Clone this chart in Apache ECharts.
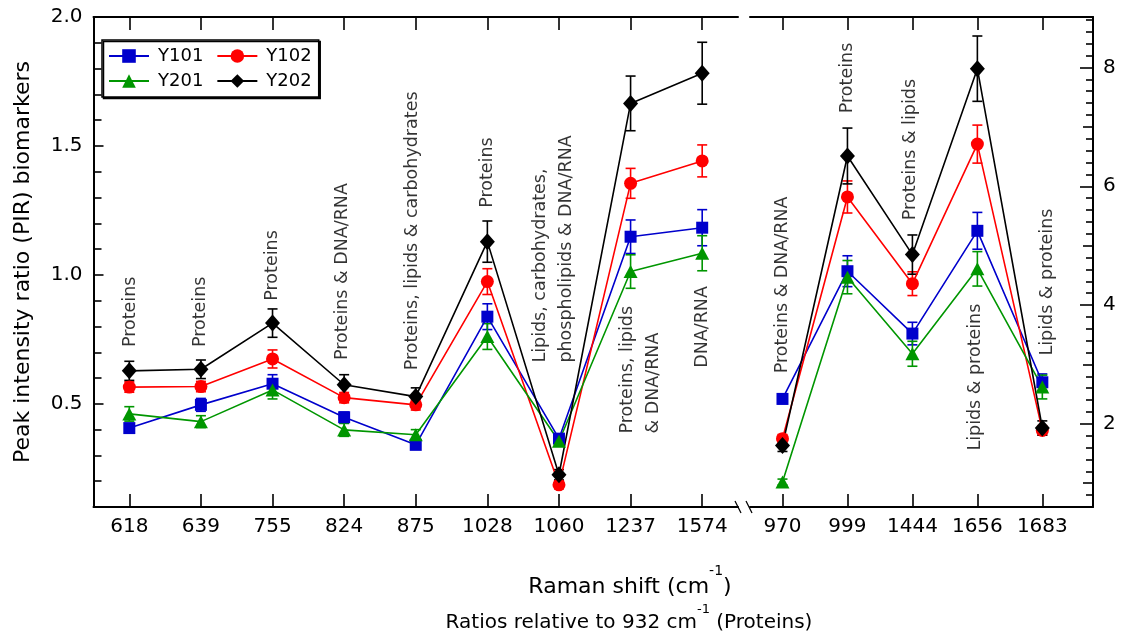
<!DOCTYPE html>
<html>
<head>
<meta charset="utf-8">
<script src="https://cdn.jsdelivr.net/npm/echarts@6/dist/echarts.min.js"></script>
<style>
html,body{margin:0;padding:0;background:#fff;}
#c{width:1128px;height:640px;}
</style>
</head>
<body>
<div id="c"></div>
<script>
// ---------- data ----------
const leftCats = ['618','639','755','824','875','1028','1060','1237','1574'];
const rightCats = ['970','999','1444','1656','1683'];

const y101Left    = [0.406, 0.496, 0.578, 0.448, 0.341, 0.838, 0.365, 1.148, 1.183];
const y101LeftErr = [0.015, 0.025, 0.035, 0.020, 0.012, 0.050, 0.015, 0.065, 0.070];
const y102Left    = [0.565, 0.567, 0.674, 0.524, 0.496, 0.974, 0.186, 1.355, 1.442];
const y102LeftErr = [0.020, 0.020, 0.035, 0.020, 0.020, 0.050, 0.015, 0.058, 0.062];
const y201Left    = [0.461, 0.431, 0.554, 0.399, 0.380, 0.761, 0.355, 1.013, 1.084];
const y201LeftErr = [0.028, 0.023, 0.035, 0.025, 0.020, 0.050, 0.015, 0.065, 0.068];
const y202Left    = [0.628, 0.634, 0.813, 0.574, 0.528, 1.129, 0.225, 1.665, 1.782];
const y202LeftErr = [0.037, 0.036, 0.055, 0.039, 0.034, 0.080, 0.020, 0.106, 0.120];

const y101Right    = [2.42, 4.57, 3.52, 5.25, 2.70];
const y101RightErr = [0.08, 0.26, 0.19, 0.31, 0.14];
const y102Right    = [1.75, 5.82, 4.36, 6.71, 1.89];
const y102RightErr = [0.07, 0.27, 0.20, 0.32, 0.08];
const y201Right    = [1.02, 4.47, 3.18, 4.61, 2.62];
const y201RightErr = [0.05, 0.28, 0.21, 0.29, 0.20];
const y202Right    = [1.635, 6.51, 4.85, 7.98, 1.93];
const y202RightErr = [0.10, 0.47, 0.33, 0.55, 0.12];

const leftTickLabels  = [0.5, 1.0, 1.5, 2.0];
const leftMinorTicks  = [0.2,0.3,0.4,0.6,0.7,0.8,0.9,1.1,1.2,1.3,1.4,1.6,1.7,1.8,1.9];
const rightTickLabels = [2, 4, 6, 8];
const rightMidTicks   = [1, 3, 5, 7];
const rightMinorTicks = [0.8,1.2,1.4,1.6,1.8,2.2,2.4,2.6,2.8,3.2,3.4,3.6,3.8,4.2,4.4,4.6,4.8,5.2,5.4,5.6,5.8,6.2,6.4,6.6,6.8,7.2,7.4,7.6,7.8,8.2,8.4,8.6,8.8];

const leftNotes = ['Proteins','Proteins','Proteins','Proteins & DNA/RNA','Proteins, lipids & carbohydrates','Proteins',
  'Lipids, carbohydrates,\nphospholipids & DNA/RNA','Proteins, lipids\n& DNA/RNA','DNA/RNA'];
const leftNoteLevels = [0.72, 0.72, 0.90, 0.67, 0.63, 1.26, 0.66, 0.385, 0.64];
const rightNotes = ['Proteins & DNA/RNA','Proteins','Proteins & lipids','Lipids & proteins','Lipids & proteins'];
const rightNoteLevels = [2.85, 7.23, 5.43, 1.55, 3.15];

const seriesNames = ['Y101','Y102','Y201','Y202'];

// ---------- styles ----------
const FONT = 'DejaVu Sans';
const colors = {Y101:'#0000CC', Y102:'#FF0000', Y201:'#009600', Y202:'#000000'};
const symbols = {Y101:'rect', Y102:'circle', Y201:'triangle', Y202:'diamond'};
const symSizes = {Y101:[12,12], Y102:[13,13], Y201:[14,13], Y202:[15,17]};
const leftNoteShift = [1, 0, 0, -2, -3, 0, -6, 10, 0];
const rightNoteShift = [0, 0, -2, -2, 5];

const groups = [
  {name:'Y101', L:y101Left, LE:y101LeftErr, R:y101Right, RE:y101RightErr},
  {name:'Y102', L:y102Left, LE:y102LeftErr, R:y102Right, RE:y102RightErr},
  {name:'Y201', L:y201Left, LE:y201LeftErr, R:y201Right, RE:y201RightErr},
  {name:'Y202', L:y202Left, LE:y202LeftErr, R:y202Right, RE:y202RightErr}
];

function errRender(color){
  return function(params, api){
    const x = api.value(0);
    const lo = api.coord([x, api.value(1)]);
    const hi = api.coord([x, api.value(2)]);
    const hw = 5;
    const st = {stroke: color, lineWidth: 1.6};
    return {type:'group', children:[
      {type:'line', shape:{x1:lo[0], y1:lo[1], x2:hi[0], y2:hi[1]}, style:st},
      {type:'line', shape:{x1:lo[0]-hw, y1:lo[1], x2:lo[0]+hw, y2:lo[1]}, style:st},
      {type:'line', shape:{x1:hi[0]-hw, y1:hi[1], x2:hi[0]+hw, y2:hi[1]}, style:st}
    ]};
  };
}

const series = [];
// line series first (legend icons come from these)
groups.forEach(g => {
  const c = colors[g.name];
  series.push({
    name: g.name, type:'line', xAxisIndex:0, yAxisIndex:0,
    data: g.L, symbol: symbols[g.name], symbolSize: symSizes[g.name], showSymbol:true,
    lineStyle:{color:c, width:1.6}, itemStyle:{color:c}, z:3
  });
  series.push({
    name: g.name, type:'line', xAxisIndex:2, yAxisIndex:2,
    data: g.R.map((v,i)=>[i, v]), symbol: symbols[g.name], symbolSize: symSizes[g.name],
    lineStyle:{color:c, width:1.6}, itemStyle:{color:c}, z:3
  });
});
groups.forEach(g => {
  const c = colors[g.name];
  series.push({
    name: g.name, type:'custom', xAxisIndex:0, yAxisIndex:0,
    renderItem: errRender(c), itemStyle:{color:c},
    data: g.L.map((v,i)=>[i, v - g.LE[i], v + g.LE[i]]),
    encode:{x:0, y:[1,2]}, silent:true, z:2
  });
  series.push({
    name: g.name, type:'custom', xAxisIndex:2, yAxisIndex:2,
    renderItem: errRender(c), itemStyle:{color:c},
    data: g.R.map((v,i)=>[i, v - g.RE[i], v + g.RE[i]]),
    encode:{x:0, y:[1,2]}, silent:true, z:2
  });
});

const noteLabel = {
  show:true, position:'inside', rotate:90, align:'left', verticalAlign:'middle',
  fontFamily:FONT, fontSize:17.5, color:'#000', lineHeight:26
};
series.push({
  type:'scatter', xAxisIndex:0, yAxisIndex:0, symbolSize:0, silent:true, z:1,
  data: leftNotes.map((t,i)=>({value:[i, leftNoteLevels[i]], label:{offset:[0, leftNoteShift[i]]}})),
  label: Object.assign({}, noteLabel, {formatter: p => leftNotes[p.dataIndex]})
});
series.push({
  type:'scatter', xAxisIndex:2, yAxisIndex:2, symbolSize:0, silent:true, z:1,
  data: rightNotes.map((t,i)=>({value:[i, rightNoteLevels[i]], label:{offset:[0, rightNoteShift[i]]}})),
  label: Object.assign({}, noteLabel, {formatter: p => rightNotes[p.dataIndex]})
});

const axisLine = {show:true, onZero:false, lineStyle:{color:'#000', width:2}};
const noLine = {show:false, onZero:false};
const tickStyle = {color:'#000', width:1.6};
const labelStyle = {fontFamily:FONT, fontSize:20, color:'#000'};

const RMIN = -0.5, RMAX = 4.78;
const YRMIN = 0.6, YRMAX = 8.85;

const option = {
  animation:false,
  backgroundColor:'#fff',
  textStyle:{fontFamily:FONT},
  grid:[
    {left:93.5, top:17, width:644.5, height:490},
    {left:750, top:17, width:343, height:490}
  ],
  legend:{
    data: seriesNames,
    left:102, top:40, width:225,
    orient:'horizontal',
    itemWidth:40, itemHeight:17, itemGap:7,
    padding:[7,1,7,6],
    borderColor:'#000', borderWidth:1.5,
    backgroundColor:'#fff',
    shadowColor:'#000', shadowOffsetX:1.5, shadowOffsetY:1.5, shadowBlur:0,
    textStyle:{fontFamily:FONT, fontSize:18, color:'#000', lineHeight:16, padding:[0,6,0,4]},
    selectedMode:false
  },
  xAxis:[
    {gridIndex:0, type:'category', data:leftCats, position:'bottom', boundaryGap:true,
     axisLine:axisLine, axisTick:{show:true, inside:true, length:13, alignWithLabel:true, lineStyle:tickStyle},
     axisLabel:Object.assign({margin:10, interval:0}, labelStyle), splitLine:{show:false}},
    {gridIndex:0, type:'category', data:leftCats, position:'top', boundaryGap:true,
     axisLine:axisLine, axisTick:{show:true, inside:true, length:13, alignWithLabel:true, lineStyle:tickStyle},
     axisLabel:{show:false}, splitLine:{show:false}},
    {gridIndex:1, type:'value', min:RMIN, max:RMAX, position:'bottom',
     axisLine:axisLine,
     axisTick:{show:true, inside:true, length:13, lineStyle:tickStyle, customValues:[0,1,2,3,4]},
     axisLabel:Object.assign({margin:10, customValues:[0,1,2,3,4], formatter:v => rightCats[Math.round(v)]}, labelStyle),
     splitLine:{show:false}},
    {gridIndex:1, type:'value', min:RMIN, max:RMAX, position:'top',
     axisLine:axisLine,
     axisTick:{show:true, inside:true, length:13, lineStyle:tickStyle, customValues:[0,1,2,3,4]},
     axisLabel:{show:false}, splitLine:{show:false}}
  ],
  yAxis:[
    {gridIndex:0, type:'value', min:0.1, max:2.0, position:'left',
     axisLine:axisLine,
     axisTick:{show:true, inside:true, length:10, lineStyle:tickStyle, customValues:leftTickLabels},
     axisLabel:Object.assign({margin:11, customValues:leftTickLabels, formatter:v => v.toFixed(1)}, labelStyle),
     splitLine:{show:false},
     name:'Peak intensity ratio (PIR) biomarkers', nameLocation:'middle', nameGap:59,
     nameTextStyle:{fontFamily:FONT, fontSize:22, color:'#000'}},
    {gridIndex:0, type:'value', min:0.1, max:2.0, position:'left',
     axisLine:noLine,
     axisTick:{show:true, inside:true, length:8, lineStyle:tickStyle, customValues:leftMinorTicks},
     axisLabel:{show:false}, splitLine:{show:false}},
    {gridIndex:1, type:'value', min:YRMIN, max:YRMAX, position:'right',
     axisLine:axisLine,
     axisTick:{show:true, inside:true, length:13, lineStyle:tickStyle, customValues:rightTickLabels},
     axisLabel:Object.assign({margin:10, customValues:rightTickLabels}, labelStyle),
     splitLine:{show:false}},
    {gridIndex:1, type:'value', min:YRMIN, max:YRMAX, position:'right',
     axisLine:noLine,
     axisTick:{show:true, inside:true, length:7, lineStyle:tickStyle, customValues:rightMinorTicks},
     axisLabel:{show:false}, splitLine:{show:false}},
    {gridIndex:1, type:'value', min:YRMIN, max:YRMAX, position:'right',
     axisLine:noLine,
     axisTick:{show:true, inside:true, length:10, lineStyle:tickStyle, customValues:rightMidTicks},
     axisLabel:{show:false}, splitLine:{show:false}}
  ],
  graphic:[
    {type:'line', shape:{x1:735, y1:501, x2:741, y2:513}, style:{stroke:'#000', lineWidth:1.3}},
    {type:'line', shape:{x1:746, y1:501, x2:752, y2:513}, style:{stroke:'#000', lineWidth:1.3}},
    {type:'text', x:630, y:587, style:{
      text:'{a|Raman shift (cm}{s|-1}{a|)}', align:'center', verticalAlign:'middle',
      rich:{a:{fontFamily:FONT, fontSize:22, fill:'#000', lineHeight:46},
            s:{fontFamily:FONT, fontSize:14, fill:'#000', verticalAlign:'top', lineHeight:14}}
    }},
    {type:'text', x:629, y:623, style:{
      text:'{a|Ratios relative to 932 cm}{s|-1}{a| (Proteins)}', align:'center', verticalAlign:'middle',
      rich:{a:{fontFamily:FONT, fontSize:20, fill:'#000', lineHeight:40},
            s:{fontFamily:FONT, fontSize:13, fill:'#000', verticalAlign:'top', lineHeight:13}}
    }}
  ],
  series: series
};

const chart = echarts.init(document.getElementById('c'), null, {renderer:'canvas'});
chart.setOption(option);
</script>
</body>
</html>
